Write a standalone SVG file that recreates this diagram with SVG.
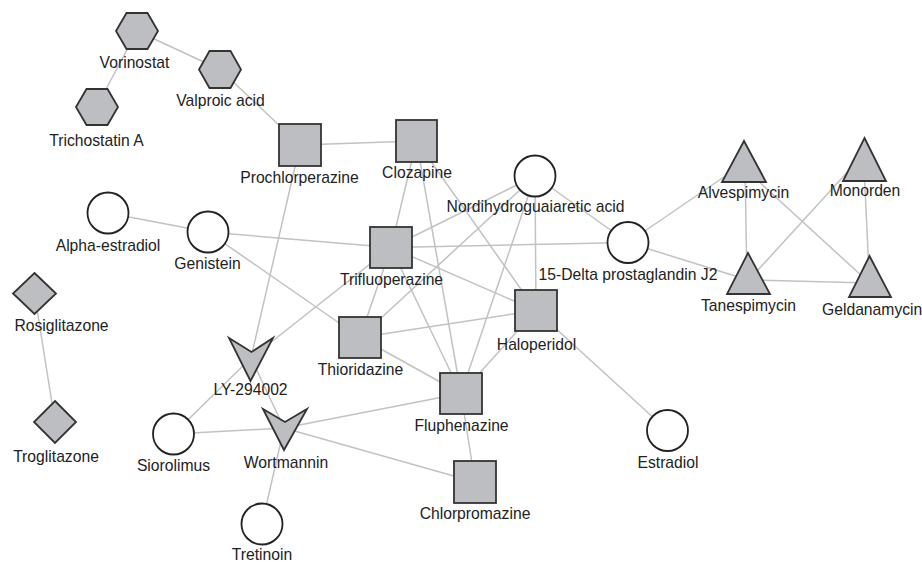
<svg xmlns="http://www.w3.org/2000/svg" width="922" height="562" viewBox="0 0 922 562">
<style>
.e{stroke:#c2c2c2;stroke-width:1.5;fill:none}
.n{fill:#bdbec1;stroke:#333;stroke-width:1.8}
.c{fill:#fff;stroke:#222;stroke-width:1.8}
text{font-family:"Liberation Sans",Arial,sans-serif;font-size:15.7px;fill:#222;text-anchor:middle}
</style>
<rect width="922" height="562" fill="#fff"/>
<g id="edges">
<line class="e" x1="137" y1="31" x2="220" y2="69.5"/>
<line class="e" x1="137" y1="31" x2="96.5" y2="107"/>
<line class="e" x1="220" y1="69.5" x2="300" y2="145"/>
<line class="e" x1="300" y1="145" x2="416.5" y2="141"/>
<line class="e" x1="300" y1="145" x2="251" y2="358"/>
<line class="e" x1="108" y1="213" x2="208" y2="232"/>
<line class="e" x1="208" y1="232" x2="391" y2="247.5"/>
<line class="e" x1="208" y1="232" x2="360" y2="337.5"/>
<line class="e" x1="34.5" y1="293.5" x2="55" y2="422"/>
<line class="e" x1="416.5" y1="141" x2="391" y2="247.5"/>
<line class="e" x1="416.5" y1="141" x2="461" y2="393.5"/>
<line class="e" x1="416.5" y1="141" x2="536" y2="310.5"/>
<line class="e" x1="535" y1="176" x2="391" y2="247.5"/>
<line class="e" x1="535" y1="176" x2="628" y2="242.5"/>
<line class="e" x1="535" y1="176" x2="536" y2="310.5"/>
<line class="e" x1="535" y1="176" x2="461" y2="393.5"/>
<line class="e" x1="535" y1="176" x2="360" y2="337.5"/>
<line class="e" x1="391" y1="247.5" x2="628" y2="242.5"/>
<line class="e" x1="391" y1="247.5" x2="536" y2="310.5"/>
<line class="e" x1="391" y1="247.5" x2="360" y2="337.5"/>
<line class="e" x1="391" y1="247.5" x2="461" y2="393.5"/>
<line class="e" x1="391" y1="247.5" x2="251" y2="358"/>
<line class="e" x1="360" y1="337.5" x2="536" y2="310.5"/>
<line class="e" x1="360" y1="337.5" x2="461" y2="393.5"/>
<line class="e" x1="536" y1="310.5" x2="461" y2="393.5"/>
<line class="e" x1="536" y1="310.5" x2="667.5" y2="430.5"/>
<line class="e" x1="461" y1="393.5" x2="475" y2="482"/>
<line class="e" x1="461" y1="393.5" x2="284" y2="428"/>
<line class="e" x1="284" y1="428" x2="475" y2="482"/>
<line class="e" x1="284" y1="428" x2="173.5" y2="434"/>
<line class="e" x1="284" y1="428" x2="262" y2="524"/>
<line class="e" x1="284" y1="428" x2="251" y2="358"/>
<line class="e" x1="251" y1="358" x2="173.5" y2="434"/>
<line class="e" x1="628" y1="242.5" x2="740" y2="166"/>
<line class="e" x1="628" y1="242.5" x2="748" y2="280"/>
<line class="e" x1="745" y1="168" x2="747" y2="280"/>
<line class="e" x1="744" y1="168" x2="869.5" y2="283"/>
<line class="e" x1="852" y1="167" x2="748" y2="281"/>
<line class="e" x1="864" y1="167" x2="869.5" y2="283"/>
<line class="e" x1="748" y1="280" x2="869.5" y2="283"/>
</g>
<g id="vorinostat"><polygon class="n" points="116,31 126.5,13 147.5,13 158,31 147.5,49 126.5,49"/><text x="134.5" y="68">Vorinostat</text></g>
<g id="valproic-acid"><polygon class="n" points="199,69.5 209.5,51 230.5,51 241,69.5 230.5,88 209.5,88"/><text x="220.5" y="106">Valproic acid</text></g>
<g id="trichostatin-a"><polygon class="n" points="76,107 86.5,89 107.5,89 118,107 107.5,125 86.5,125"/><text x="96.5" y="146">Trichostatin A</text></g>
<g id="prochlorperazine"><rect class="n" x="279" y="124" width="42" height="42"/><text x="299.5" y="183">Prochlorperazine</text></g>
<g id="clozapine"><rect class="n" x="396" y="120" width="41" height="42"/><text x="417" y="178">Clozapine</text></g>
<g id="ndga"><circle class="c" cx="535" cy="176" r="20.5"/><text x="535.5" y="212">Nordihydroguaiaretic acid</text></g>
<g id="alpha-estradiol"><circle class="c" cx="108" cy="213" r="20.5"/><text x="108" y="251">Alpha-estradiol</text></g>
<g id="genistein"><circle class="c" cx="208" cy="232" r="20.5"/><text x="207.5" y="269">Genistein</text></g>
<g id="trifluoperazine"><rect class="n" x="370" y="227" width="42" height="41"/><text x="391.5" y="285">Trifluoperazine</text></g>
<g id="delta-pgj2"><circle class="c" cx="628" cy="242.5" r="20.5"/><text x="628" y="280">15-Delta prostaglandin J2</text></g>
<g id="alvespimycin"><polygon class="n" points="744,141 766,182 722,182"/><text x="743.5" y="198">Alvespimycin</text></g>
<g id="monorden"><polygon class="n" points="864.5,138 886,181 843,181"/><text x="865" y="196">Monorden</text></g>
<g id="tanespimycin"><polygon class="n" points="748,253 770,294 727,294"/><text x="748.5" y="311">Tanespimycin</text></g>
<g id="geldanamycin"><polygon class="n" points="869.5,256 891,297 849,297"/><text x="822" y="315" style="text-anchor:start">Geldanamycin</text></g>
<g id="rosiglitazone"><polygon class="n" points="34.5,273 56,293.5 34.5,314 13,293.5"/><text x="61.5" y="331">Rosiglitazone</text></g>
<g id="troglitazone"><polygon class="n" points="55,401 76,422 55,443 34,422"/><text x="56" y="462">Troglitazone</text></g>
<g id="ly-294002"><polygon class="n" points="229,338 251.5,352 273,338 250.5,381"/><text x="250.5" y="395">LY-294002</text></g>
<g id="thioridazine"><rect class="n" x="339" y="317" width="42" height="41"/><text x="360.5" y="375">Thioridazine</text></g>
<g id="haloperidol"><rect class="n" x="515" y="290" width="42" height="41"/><text x="536.5" y="350">Haloperidol</text></g>
<g id="fluphenazine"><rect class="n" x="440" y="373" width="42" height="41"/><text x="461.5" y="431">Fluphenazine</text></g>
<g id="wortmannin"><polygon class="n" points="263,409 285,422 307,409 284,450"/><text x="286" y="468">Wortmannin</text></g>
<g id="siorolimus"><circle class="c" cx="173.5" cy="434" r="20.5"/><text x="173.5" y="471">Siorolimus</text></g>
<g id="estradiol"><circle class="c" cx="667.5" cy="430.5" r="20.5"/><text x="668" y="468">Estradiol</text></g>
<g id="chlorpromazine"><rect class="n" x="454" y="461" width="42" height="42"/><text x="475" y="519">Chlorpromazine</text></g>
<g id="tretinoin"><circle class="c" cx="262" cy="524" r="20.5"/><text x="262" y="560">Tretinoin</text></g>
</svg>
